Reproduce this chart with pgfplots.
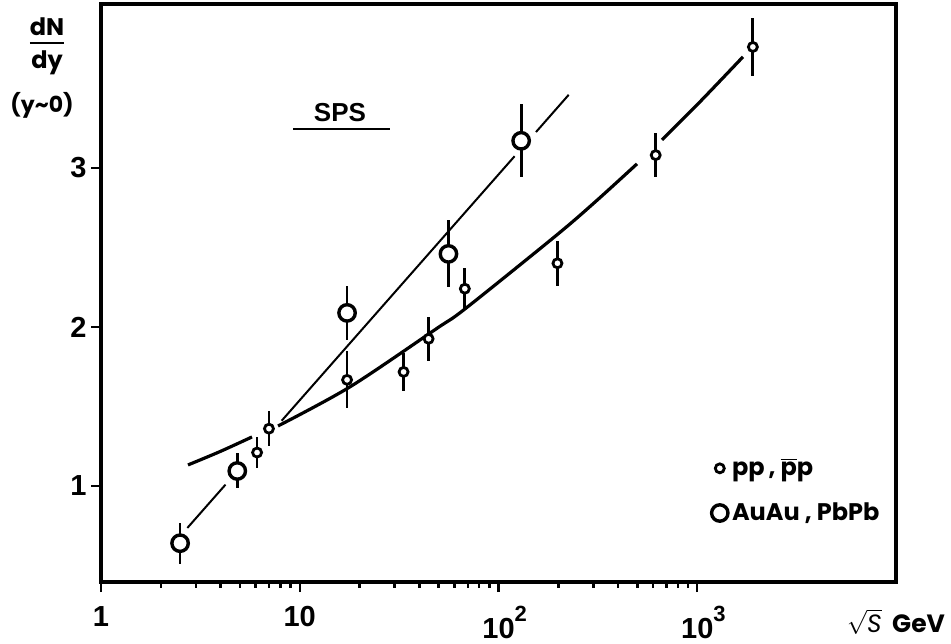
\documentclass[border=0pt]{standalone}
\usepackage{pgfplots}
\pgfplotsset{compat=1.18}
\usepackage{fontspec}
\setmainfont{Poppins}
\newfontfamily\ticfont{Liberation Sans}
\setlength{\arrayrulewidth}{1.3pt}
\begin{document}
\begin{tikzpicture}
\begin{axis}[
  at={(0,0)}, anchor=south west,
  scale only axis, width=397.5pt, height=289pt,
  xmode=log, xmin=1, xmax=10000, ymin=0.396, ymax=4.03,
  xtick={1,10,100,1000},
  xticklabels={1,10,{10\rlap{\raisebox{1.1ex}{\fontsize{11}{12}\selectfont 2}}},{10\rlap{\raisebox{1.1ex}{\fontsize{11}{12}\selectfont 3}}}},
  ytick={1,2,3}, yticklabels={1,2,3},
  minor xtick={}, minor ytick={},
  xtick pos=bottom, ytick pos=left,
  tick align=outside, major tick length=5pt,
  axis line style={line width=1.6pt},
  tick style={line width=1.2pt, black},
  tick label style={font=\ticfont\bfseries\fontsize{14.5}{16}\selectfont, inner sep=2pt},
  xticklabel style={yshift=-5pt},
  clip=false,
  legend style={draw=none, fill=none, at={(axis description cs:0.76,0.229)}, anchor=north west,
    font=\bfseries\fontsize{12}{14}\selectfont, row sep=8pt, cells={anchor=west}},
  legend cell align=left,
]
\draw[black, line width=2pt] (rel axis cs:0,1) -- (rel axis cs:1,1) -- (rel axis cs:1,0);
% thin line (AuAu, PbPb)
\addplot[black, line width=1pt, forget plot] coordinates {(2.72,0.736) (4.23,1.008)};
\addplot[black, line width=1pt, forget plot] coordinates {(8.11,1.410) (120.5,3.073)};
\addplot[black, line width=1pt, forget plot] coordinates {(154.4,3.225) (225.5,3.459)};
% thick curve (pp)
\addplot[black, line width=1.6pt, smooth, forget plot] coordinates {(2.740,1.132) (3.969,1.216) (5.752,1.308)};
\addplot[black, line width=1.6pt, smooth, forget plot] coordinates {(7.774,1.377) (17.90,1.623) (49.05,1.991) (67.83,2.113) (197.0,2.579) (313.1,2.796) (497.6,3.025)};
\addplot[black, line width=1.6pt, smooth, forget plot] coordinates {(664.5,3.176) (1032,3.415) (1699,3.698)};
% SPS bar
\addplot[black, line width=1.3pt, forget plot] coordinates {(9.25,3.245) (28.5,3.245)};
% pp data
\addplot[only marks, mark=*, mark size=2.25pt,
  mark options={fill=white, draw=black, line width=1.4pt},
  error bars/.cd, y dir=both, y explicit, error mark=none,
  error bar style={line width=1.4pt, black}]
  coordinates {
  (6.1,1.21) +- (0,0.10)
  (7.0,1.36) +- (0,0.11)
  (17.3,1.667) +- (0,0.18)
  (33.3,1.717) +- (0,0.12)
  (44.5,1.925) +- (0,0.14)
  (67.7,2.24) +- (0,0.13)
  (198,2.40) +- (0,0.14)
  (618,3.08) +- (0,0.14)
  (1905,3.76) +- (0,0.18)
  };
\addlegendentry{pp\,, \ensuremath{\overline{\mbox{p}}}p}
% AuAu data
\addplot[only marks, mark=*, mark size=4.1pt,
  mark options={fill=white, draw=black, line width=1.7pt},
  error bars/.cd, y dir=both, y explicit, error mark=none,
  error bar style={line width=1.4pt, black}]
  coordinates {
  (2.5,0.64) +- (0,0.13)
  (4.85,1.094) +- (0,0.11)
  (17.3,2.088) +- (0,0.17)
  (56,2.459) +- (0,0.21)
  (130,3.17) +- (0,0.23)
  };
\addlegendentry{AuAu , PbPb}
\node[font=\ticfont\bfseries\fontsize{13}{15}\selectfont] at (axis description cs:0.3006,0.813) {SPS};
\node[font=\bfseries\fontsize{12}{13}\selectfont, inner sep=0pt] at (axis description cs:-0.0679,0.926)
  {\begin{tabular}{@{}c@{}}dN\\[-1pt]\hline\rule{0pt}{1.0em}dy\end{tabular}};
\node[font=\bfseries\fontsize{11}{12}\selectfont] at (axis description cs:-0.0742,0.8253) {(y\textasciitilde0)};
\node[font=\bfseries\fontsize{12.5}{14}\selectfont] at (axis description cs:1.0,-0.069) {$\sqrt{\mathit{S}}$\ \ GeV};
\end{axis}
\pgfresetboundingbox
\useasboundingbox (current axis.south west) ++(-50.5pt,-30.5pt) rectangle ++(475.5pt,321.5pt);
\end{tikzpicture}
\end{document}
